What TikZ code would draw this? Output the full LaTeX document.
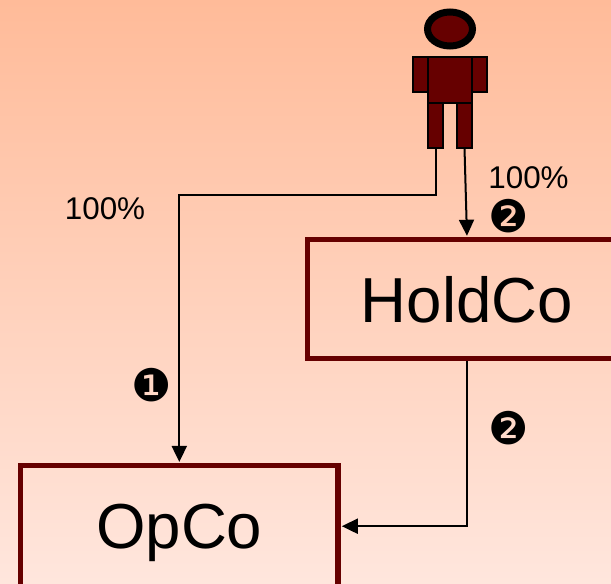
\documentclass[tikz,border=0pt]{standalone}
\usepackage{fontspec}
\setmainfont{Liberation Sans}
\newfontfamily\dingfont{DejaVu Sans}
\usepackage{xcolor}
\usepackage{tikz}
\usetikzlibrary{arrows.meta,positioning,shapes.geometric}
\definecolor{maroon}{HTML}{660000}
\definecolor{bgtop}{HTML}{FFBB99}
\definecolor{bgbottom}{HTML}{FFE6DD}

\begin{document}
\begin{tikzpicture}[
    x=1pt, y=-1pt,
    company/.style={rectangle, draw=maroon, line width=5.5pt, text depth=0pt, font=\fontsize{63.6}{63.6}\selectfont},
    limb/.style={rectangle, draw=black, fill=maroon, line width=2pt, inner sep=0pt, outer sep=0pt},
    share/.style={font=\fontsize{31.4}{31.4}\selectfont, inner sep=0pt},
    badge/.style={font=\dingfont\fontsize{45}{45}\selectfont, inner sep=0pt},
    arrow/.style={line width=2pt, -{Triangle[width=15pt,length=16pt]}, shorten >=1pt}
  ]
    \useasboundingbox (0,0) rectangle (611,584);
    \shade[top color=bgtop, bottom color=bgbottom] (0,0) rectangle (611,584);

    % Nodes
    \node[ellipse, draw=black, fill=maroon, line width=7pt, minimum width=45pt, minimum height=34pt, inner sep=0pt] (head) at (450,29) {};
    \node[limb, minimum width=44pt, minimum height=46pt] (body) at (450,80) {};
    \node[limb, minimum width=15pt, minimum height=35pt, anchor=north east] (arm_left) at (body.north west) {};
    \node[limb, minimum width=15pt, minimum height=35pt, anchor=north west] (arm_right) at (body.north east) {};
    \node[limb, minimum width=15pt, minimum height=45pt, below right=0pt and 0pt of body.south west] (leg_left) {};
    \node[limb, minimum width=15pt, minimum height=45pt, below left=0pt and 0pt of body.south east] (leg_right) {};
    \node[company, minimum width=319pt, minimum height=119pt] (holdco) at (467,299) {HoldCo};
    \node[company, minimum width=317.5pt, minimum height=121pt] (opco) at (179.3,526.2) {OpCo};

    % Arrows
    \draw[arrow] (leg_left.south) -- ++(0,47) -| (opco.north);
    \draw[arrow] (leg_right.south) -- (holdco.north);
    \draw[arrow] (holdco.south) |- (opco.east);

    % Annotations
    \node[share] (share_opco) at (105,209) {100\%};
    \node[share] (share_holdco) at (528.5,178) {100\%};
    \node[badge] (badge_one) at (152,385) {❶};
    \node[badge] (badge_two_top) at (509,216) {❷};
    \node[badge] (badge_two_bottom) at (509,428) {❷};
  \end{tikzpicture}
\end{document}
